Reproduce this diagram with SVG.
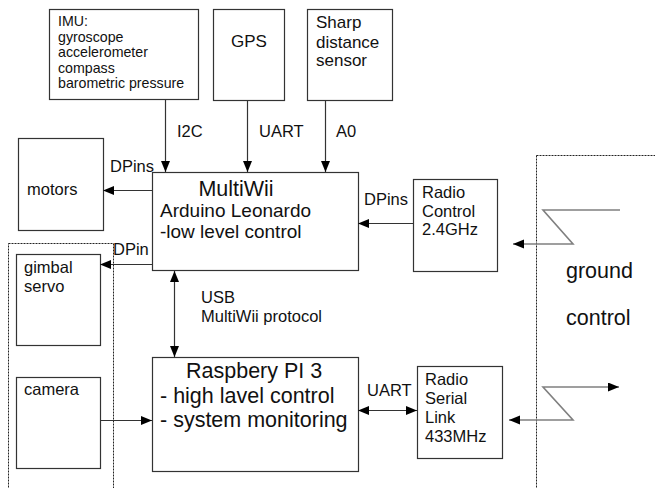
<svg xmlns="http://www.w3.org/2000/svg" width="655" height="488" viewBox="0 0 655 488">
<style>
.box{fill:#fff;stroke:#333;stroke-width:1.2}
.dot{fill:none;stroke:#222;stroke-width:1;stroke-dasharray:2 1}
.t{font-family:"Liberation Sans",Arial,sans-serif;fill:#111}
.s14{font-size:14.2px}
.s16{font-size:16.5px}
.s17{font-size:17px}
.s21{font-size:21.5px}
.c{fill:none;stroke:#333;stroke-width:1.2}
.z{fill:none;stroke:#808080;stroke-width:1.6}
</style>
<defs>
<marker id="ah" markerUnits="userSpaceOnUse" markerWidth="12" markerHeight="10" refX="11" refY="4.5" orient="auto-start-reverse">
<path d="M0,0 L11,4.5 L0,9 z" fill="#000"/>
</marker>
</defs>
<rect width="655" height="488" fill="#fff"/>
<g id="groups">
<rect class="dot" x="8.5" y="243.5" width="105" height="260"/>
<rect class="dot" x="536.5" y="155.5" width="140" height="350"/>
</g>
<g id="imu">
<rect class="box" x="49.5" y="9.5" width="149" height="90"/>
<text class="t s14"><tspan x="58" y="26">IMU:</tspan><tspan x="58" y="41.5">gyroscope</tspan><tspan x="58" y="57">accelerometer</tspan><tspan x="58" y="72.5">compass</tspan><tspan x="58" y="88">barometric pressure</tspan></text>
</g>
<g id="gps">
<rect class="box" x="213.5" y="9.5" width="71" height="91"/>
<text class="t s17" x="249" y="47" text-anchor="middle">GPS</text>
</g>
<g id="sharp">
<rect class="box" x="307.5" y="9.5" width="85" height="91"/>
<text class="t s17"><tspan x="316" y="28">Sharp</tspan><tspan x="316" y="47.5">distance</tspan><tspan x="316" y="66">sensor</tspan></text>
</g>
<g id="motors">
<rect class="box" x="18.5" y="138.5" width="85" height="92"/>
<text class="t s16" x="27" y="195">motors</text>
</g>
<g id="multiwii">
<rect class="box" x="152.5" y="172.5" width="206" height="98"/>
<text class="t s21" x="236" y="196" text-anchor="middle">MultiWii</text>
<text class="t" style="font-size:19px"><tspan x="160" y="217">Arduino Leonardo</tspan><tspan x="160" y="238">-low level control</tspan></text>
</g>
<g id="radiocontrol">
<rect class="box" x="413.5" y="179.5" width="84" height="92"/>
<text class="t s16"><tspan x="422" y="198">Radio</tspan><tspan x="422" y="217">Control</tspan><tspan x="422" y="235">2.4GHz</tspan></text>
</g>
<g id="gimbal">
<rect class="box" x="16.5" y="254.5" width="84" height="91"/>
<text class="t s16"><tspan x="24" y="273">gimbal</tspan><tspan x="24" y="292">servo</tspan></text>
</g>
<g id="camera">
<rect class="box" x="16.5" y="377.5" width="84" height="91"/>
<text class="t s16" x="24" y="395">camera</text>
</g>
<g id="raspberry">
<rect class="box" x="152.5" y="357.5" width="206" height="114"/>
<text class="t s21"><tspan x="186" y="378">Raspbery PI 3</tspan><tspan x="160" y="403">- high lavel control</tspan><tspan x="160" y="427">- system monitoring</tspan></text>
</g>
<g id="radioserial">
<rect class="box" x="417.5" y="366.5" width="85" height="92"/>
<text class="t s16"><tspan x="425" y="385">Radio</tspan><tspan x="425" y="404">Serial</tspan><tspan x="425" y="423">Link</tspan><tspan x="425" y="442">433MHz</tspan></text>
</g>
<g id="groundcontrol">
<text class="t s21"><tspan x="566" y="278">ground</tspan><tspan x="566" y="325">control</tspan></text>
</g>
<g id="connectors">
<path class="c" d="M165.5,99 V172" marker-end="url(#ah)"/>
<path class="c" d="M247.5,100 V172" marker-end="url(#ah)"/>
<path class="c" d="M325.5,100 V172" marker-end="url(#ah)"/>
<path class="c" d="M152,190.5 H103" marker-end="url(#ah)"/>
<path class="c" d="M152,264.5 H100" marker-end="url(#ah)"/>
<path class="c" d="M413,223.5 H358" marker-end="url(#ah)"/>
<path class="c" d="M174.5,271 V357" marker-start="url(#ah)" marker-end="url(#ah)"/>
<path class="c" d="M100,420.5 H152" marker-end="url(#ah)"/>
<path class="c" d="M358,410.5 H417" marker-start="url(#ah)" marker-end="url(#ah)"/>
<path class="z" d="M620,210 H543 L573,244 H513" marker-end="url(#ah)"/>
<path class="z" d="M509,420 H573 L543,387 H619" marker-start="url(#ah)" marker-end="url(#ah)"/>
<text class="t s16" x="177" y="137">I2C</text>
<text class="t s16" x="259" y="137">UART</text>
<text class="t s16" x="336" y="137">A0</text>
<text class="t s16" x="110" y="172">DPins</text>
<text class="t s16" x="113" y="255">DPin</text>
<text class="t s16" x="364" y="205">DPins</text>
<text class="t s16" x="367" y="396">UART</text>
<text class="t s16"><tspan x="201" y="303">USB</tspan><tspan x="201" y="322">MultiWii protocol</tspan></text>
</g>
</svg>
